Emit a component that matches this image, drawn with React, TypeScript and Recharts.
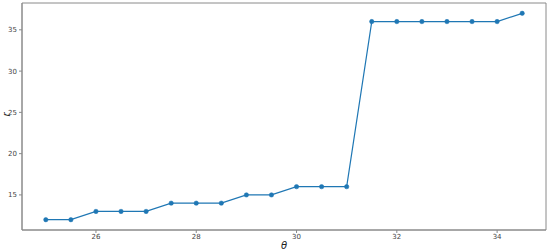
import { LineChart, Line, XAxis, YAxis, ReferenceArea } from "recharts"

// theta values (x) and r values (y)
const theta = [25, 25.5, 26, 26.5, 27, 27.5, 28, 28.5, 29, 29.5, 30, 30.5, 31, 31.5, 32, 32.5, 33, 33.5, 34, 34.5]
const rValues = [12, 12, 13, 13, 13, 14, 14, 14, 15, 15, 16, 16, 16, 36, 36, 36, 36, 36, 36, 37]

const xTicks = [26, 28, 30, 32, 34]
const yTicks = [15, 20, 25, 30, 35]
const xDomain: [number, number] = [24.525, 34.975]
const yDomain: [number, number] = [10.75, 38.25]

const data = theta.map((t, i) => ({ theta: t, r: rValues[i] }))

const axisColor = "#8a8a8a"
const tickStyle = { fontSize: 7, fill: "#444", fontFamily: "DejaVu Sans" }

export default function App() {
  return (
    <div style={{ position: "absolute", left: 0, top: 0, width: 550, height: 250, background: "#fff" }}>
      <LineChart width={550} height={250} data={data} margin={{ top: 3, right: 4, bottom: 0, left: 0 }}>
        <XAxis
          dataKey="theta"
          type="number"
          domain={xDomain}
          ticks={xTicks}
          allowDataOverflow
          height={20}
          tickSize={3}
          tickMargin={1}
          tick={tickStyle}
          stroke={axisColor}
          label={{
            value: "θ",
            position: "insideBottom",
            offset: 1,
            style: { fontSize: 10, fontStyle: "italic", fill: "#222", fontFamily: "DejaVu Sans" },
          }}
        />
        <YAxis
          type="number"
          domain={yDomain}
          ticks={yTicks}
          allowDataOverflow
          width={22}
          tickSize={3}
          tickMargin={2}
          tick={tickStyle}
          stroke={axisColor}
          label={{
            value: "r",
            angle: -90,
            position: "insideLeft",
            offset: 6,
            style: { fontSize: 10, fontStyle: "italic", fill: "#222", fontFamily: "DejaVu Sans" },
          }}
        />
        <ReferenceArea
          x1={xDomain[0]}
          x2={xDomain[1]}
          y1={yDomain[0]}
          y2={yDomain[1]}
          fill="none"
          stroke={axisColor}
          strokeWidth={1}
        />
        <Line
          dataKey="r"
          stroke="#1f77b4"
          strokeWidth={1.2}
          dot={{ r: 2.2, fill: "#1f77b4", stroke: "#1f77b4", strokeWidth: 0.5 }}
          isAnimationActive={false}
        />
      </LineChart>
    </div>
  )
}
